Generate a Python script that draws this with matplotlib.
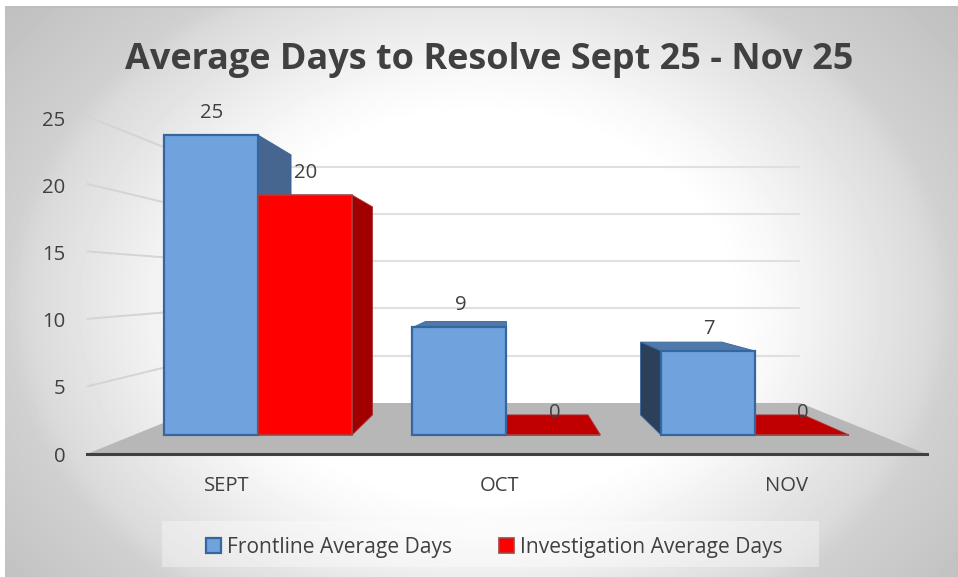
import numpy as np
import matplotlib
matplotlib.use("Agg")
import matplotlib.pyplot as plt
from matplotlib.patches import Polygon, Rectangle

# ---- data ----
months = ["SEPT", "OCT", "NOV"]
frontline = [25, 9, 7]
investigation = [20, 0, 0]
series_names = ["Frontline Average Days", "Investigation Average Days"]
title = "Average Days to Resolve Sept 25 - Nov 25"
value_ticks = [0, 5, 10, 15, 20, 25]

W, H = 958, 577
TXT = "#404040"
plt.rcParams["font.family"] = ["Open Sans", "DejaVu Sans"]

fig = plt.figure(figsize=(W / 100, H / 100), dpi=100, facecolor="white")

# background: radial gradient panel
bg = fig.add_axes([0, 0, 1, 1], zorder=0)
yy, xx = np.mgrid[0:H, 0:W]
d = np.hypot(xx - 480, 1.3 * (yy - 305))
g = np.interp(d, [0, 250, 300, 375, 450, 475, 625], [255, 255, 248, 233, 218, 208, 190])
g[:, :5] = 255
g[:6, :] = 255
g[6:8, 5:] = np.minimum(g[6:8, 5:], 190)
bg.imshow(g, cmap="gray", vmin=0, vmax=255, aspect="auto", extent=(0, W, H, 0), interpolation="nearest")
bg.axis("off")

# front plane of the bars: x px = 258 + 248.5*x, y px = 435 - 12*v
ax = fig.add_axes([0, 0, 1, 1], zorder=1)
ax.set_xlim(-258 / 248.5, (W - 258) / 248.5)
ax.set_ylim((435 - H) / 12, 435 / 12)
ax.axis("off")

VP = (1.0, 12.58)  # vanishing point in data units


def proj(x, v, t):
    """Point (x, v) moved in depth t towards the vanishing point."""
    return (x + t * (VP[0] - x), v + t * (VP[1] - v))


T_BAR, T_BACK, T_FRONT = 0.133, 0.212, -0.126

# floor
ax.add_patch(Polygon([proj(-0.5, 0, T_FRONT), proj(2.5, 0, T_FRONT), proj(2.5, 0, T_BACK), proj(-0.5, 0, T_BACK)],
                     closed=True, fc="#b7b7b7", ec="none", zorder=1))
# gridlines
for v in value_ticks[1:]:
    a, b, c = proj(-0.5, v, T_FRONT), proj(-0.5, v, T_BACK), proj(2.5, v, T_BACK)
    ax.plot([a[0], b[0]], [a[1], b[1]], color="#d4d4d4", lw=1.4, zorder=1.5, solid_capstyle="butt")
    ax.plot([b[0], c[0]], [b[1], c[1]], color="#e0e0e0", lw=1.5, zorder=1.5, solid_capstyle="butt")

width = 94 / 248.5
x = np.arange(len(months))
b1 = ax.bar(x - width / 2, frontline, width, color="#70a2de", edgecolor="#35679f", linewidth=1.6, zorder=4,
            label=series_names[0])
b2 = ax.bar(x + width / 2, investigation, width, color="#ff0000", edgecolor="#a04545", linewidth=1.2, zorder=4,
            label=series_names[1])


def extrude(xc, v, top, side_r, side_l, edge):
    x0, x1 = xc - width / 2, xc + width / 2
    if v < VP[1]:
        ax.add_patch(Polygon([(x0, v), (x1, v), proj(x1, v, T_BAR), proj(x0, v, T_BAR)], closed=True,
                             fc=top, ec=edge, lw=0.6, zorder=3))
    if v > 0:
        if x1 < VP[0] - 0.01:
            ax.add_patch(Polygon([(x1, v), (x1, 0), proj(x1, 0, T_BAR), proj(x1, v, T_BAR)], closed=True,
                                 fc=side_r, ec=edge, lw=0.6, zorder=3))
        if x0 > VP[0] + 0.01:
            ax.add_patch(Polygon([(x0, v), (x0, 0), proj(x0, 0, T_BAR), proj(x0, v, T_BAR)], closed=True,
                                 fc=side_l, ec=edge, lw=0.6, zorder=3))


for xc, v in zip(x - width / 2, frontline):
    extrude(xc, v, "#4f79aa", "#46658f", "#2c4059", "#35679f")
for xc, v in zip(x + width / 2, investigation):
    extrude(xc, v, "#c00000", "#a00000", "#a00000", "#b03030")

# data labels
for xs, vals in ((x - width / 2, frontline), (x + width / 2, investigation)):
    for xc, v in zip(xs, vals):
        ax.annotate(str(v), (xc, v), xytext=(0.8, 16), textcoords="offset points", ha="center", va="center",
                    fontsize=14.6, color=TXT, zorder=6)

# value / category axis on the outer plane
ax2 = fig.add_axes([87 / W, 1 - 454 / H, 840 / W, (454 - 118) / H], zorder=2)
ax2.patch.set_alpha(0)
ax2.set_xlim(-0.5, 2.5)
ax2.set_ylim(0, 25)
for s in ("left", "right", "top"):
    ax2.spines[s].set_visible(False)
ax2.spines["bottom"].set_color(TXT)
ax2.spines["bottom"].set_linewidth(2.2)
ax2.set_yticks(value_ticks)
ax2.set_xticks([0, 0.975, 2])
ax2.set_xticklabels(months)
ax2.tick_params(axis="y", length=0, pad=15.5, labelsize=14.6, labelcolor=TXT)
ax2.tick_params(axis="x", length=0, pad=16, labelsize=14.6, labelcolor=TXT)

# title
fig.text(489.5 / W, 1 - 60.5 / H, title, ha="center", va="center", fontsize=25.9, fontweight="bold", color=TXT)

# legend
fig.patches.append(Rectangle((162 / W, 1 - 567 / H), 657 / W, 46 / H, transform=fig.transFigure,
                             fc=(1, 1, 1, 0.35), ec="none", zorder=1.5))
leg = fig.legend(handles=[b1, b2], loc="center", bbox_to_anchor=(494.5 / W, 1 - 547 / H), ncols=2, frameon=False,
                 fontsize=15.1, labelcolor=TXT, handlelength=0.7, handleheight=0.7, handletextpad=0.3,
                 columnspacing=2.24, borderpad=0)
leg.set_zorder(5)

fig.savefig("out.png", dpi=100)
